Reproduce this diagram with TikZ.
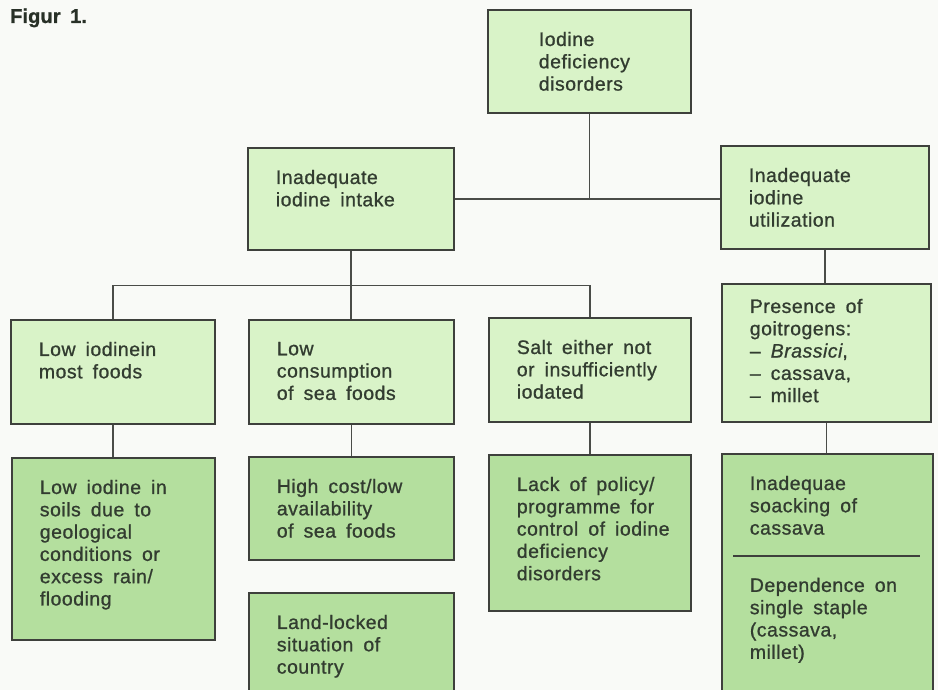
\documentclass[tikz,border=0pt]{standalone}
\usepackage{fontspec}
\setmainfont{Liberation Sans}[LetterSpace=2.5, WordSpace=1.7, FakeBold=0.9]
\usetikzlibrary{calc}

\definecolor{paper}{HTML}{F9FAF7}
\definecolor{lightgreen}{HTML}{D9F3C8}
\definecolor{darkgreen}{HTML}{B4DF9E}
\definecolor{ink}{HTML}{323C30}
\definecolor{frame}{HTML}{3E403C}
\definecolor{wire}{HTML}{4A4C48}

\tikzset{
	box/.style={draw=frame, line width=1.7pt, inner sep=0pt, anchor=north west,
		text=ink, font=\fontsize{19.5}{22.3}\selectfont},
	link/.style={draw=wire, line width=1.5pt},
	divider/.style={draw=frame, line width=1.5pt},
}

\begin{document}
\begin{tikzpicture}[x=1pt, y=-1pt]

\def\width{938}
\def\height{690}

\path [use as bounding box] (0,0) rectangle (\width,\height);
\clip (0,0) rectangle (\width,\height);
\fill [paper] (0,0) rectangle (\width,\height);

% TITLE
\node [anchor=base west, inner sep=0pt, text=ink!80!black,
	font=\fontsize{20}{24}\bfseries\selectfont\addfontfeature{LetterSpace=0.5}]
	(fig) at (10,23) {Figur 1.};

% Function: cause box
% #1 : top inset (optional)
% #2 : name
% #3 : x
% #4 : y
% #5 : width
% #6 : height
% #7 : fill
% #8 : text
\newcommand{\causebox}[8][22pt]{%
	\node [box, fill=#7] (#2) at (#3,#4)
		{\parbox[t][#6pt][t]{#5pt}{\vspace*{#1}\raggedright\leftskip=28pt #8}};%
}

% TOP
\causebox{idd}{487}{9}{203}{103}{lightgreen}{\leftskip=51pt Iodine\\deficiency\\disorders}

% SECOND LEVEL
\causebox{intake}{247}{147}{206}{102}{lightgreen}{Inadequate\\iodine intake}
\causebox{util}{720}{145}{208}{103}{lightgreen}{Inadequate\\iodine\\utilization}

% THIRD LEVEL
\causebox{lowfood}{10}{319}{204}{104}{lightgreen}{Low iodinein\\most foods}
\causebox{seafood}{248}{319}{205}{104}{lightgreen}{Low\\consumption\\of sea foods}
\causebox{salt}{488}{317}{202}{104}{lightgreen}{Salt either not\\or insufficiently\\iodated}
\causebox[15pt]{goitro}{721}{283}{209}{138}{lightgreen}{Presence of\\goitrogens:\\\textendash{} \textit{Brassici},\\\textendash{} cassava,\\\textendash{} millet}

% ROOT CAUSES
\causebox{soil}{11}{457}{203}{182}{darkgreen}{Low iodine in\\soils due to\\geological\\conditions or\\excess rain/\\flooding}
\causebox{cost}{248}{456}{205}{103}{darkgreen}{High cost/low\\availability\\of sea foods}
\causebox{landlock}{248}{592}{205}{130}{darkgreen}{Land-locked\\situation of\\country}
\causebox{policy}{488}{454}{202}{156}{darkgreen}{Lack of policy/\\programme for\\control of iodine\\deficiency\\disorders}
\causebox{soak}{721}{453}{211}{270}{darkgreen}{Inadequae\\soacking of\\cassava\par\vspace{35pt}Dependence on\\single staple\\(cassava,\\millet)}

\draw [divider] (soak.north west) ++(12,103) -- ++(187,0);

% LINKS
\draw [link] (idd.south) -- (idd.south |- intake.east);
\draw [link] (intake.east) -- (util.west |- intake.east);
\coordinate (bus) at ($(intake.south)+(0,35)$);
\draw [link] (intake.south) -- (intake.south |- seafood.north);
\draw [link] (lowfood.north) |- (salt.north |- bus) -- (salt.north);

\foreach \a/\b in {util/goitro, lowfood/soil, seafood/cost, salt/policy, goitro/soak} {
	\draw [link] (\a.south) -- (\a.south |- \b.north);
}

\end{tikzpicture}
\end{document}
